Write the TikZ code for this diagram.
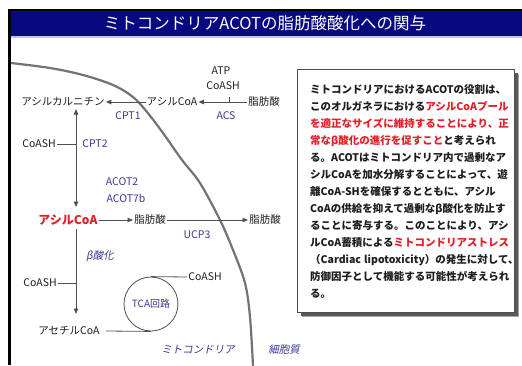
\documentclass[tikz,border=0pt]{standalone}
\usepackage{fontspec}
\newfontfamily\cjk{Noto Sans CJK JP}
\newfontfamily\cjki{Noto Sans CJK JP}[FakeSlant=0.2]
\usetikzlibrary{arrows.meta}
\definecolor{navy}{RGB}{8,8,128}
\definecolor{enz}{RGB}{58,58,150}
\definecolor{jred}{RGB}{228,30,40}
\definecolor{ink}{RGB}{30,30,30}
\definecolor{lne}{RGB}{80,80,80}
\begin{document}
\begin{tikzpicture}[x=1pt,y=-1pt,
  lbl/.style={font=\cjk\fontsize{10.5}{12}\selectfont, text=ink, inner sep=1pt},
  enzlbl/.style={lbl, text=enz},
  itlbl/.style={font=\cjki\fontsize{10.5}{12}\selectfont, text=enz, inner sep=1pt},
  tx/.style={font=\cjk\bfseries\fontsize{10.5}{12}\selectfont, text=ink, inner sep=0pt, anchor=base west},
  conn/.style={draw=lne, line width=0.8pt},
  arr/.style={conn, -{Triangle[length=5.5pt,width=4.5pt]}},
  arrboth/.style={conn, {Triangle[length=5.5pt,width=4.5pt]}-{Triangle[length=5.5pt,width=4.5pt]}},
]
\useasboundingbox (0,0) rectangle (522,365);
\fill[white] (0,0) rectangle (522,365);
% frame and title bar
\fill[black] (8,9) rectangle (522,11);
\fill[black] (8,9) rectangle (11,365);
\fill[navy] (11,11) rectangle (522,36);
\fill[blue!25] (11,36) rectangle (522,37.5);
\node[font=\cjk\fontsize{16.5}{18}\selectfont, text=white] (title) at (265,23) {ミトコンドリアACOTの脂肪酸酸化への関与};

% membrane curve
\draw[line width=2.2pt, draw=black!55] plot[smooth, tension=0.55] coordinates {(11,63) (50,68) (83,75) (113,85) (133,97) (147,112) (163,133) (182,160) (200,183) (220,220) (233,250) (245,283) (250,317) (253,366)};

% text box
\fill[black!35] (302,74) rectangle (519,317);
\fill[black!65] (301,73) rectangle (517.5,315.5);
\node[draw=black!70, fill=white, line width=0.8pt, minimum width=217pt, minimum height=243pt, anchor=north west, inner sep=0pt] (box) at (297,69) {};
\node[tx] (l1) at (310,93) {ミトコンドリアにおけるACOTの役割は、};
\node[tx] (l2) at (310,110) {このオルガネラにおける\textcolor{jred}{アシルCoAプール}};
\node[tx] (l3) at (310,127) {\textcolor{jred}{を適正なサイズに維持することにより、正}};
\node[tx] (l4) at (310,144) {\textcolor{jred}{常なβ酸化の進行を促すこと}と考えられ};
\node[tx] (l5) at (310,161) {る。ACOTはミトコンドリア内で過剰なア};
\node[tx] (l6) at (310,178) {シルCoAを加水分解することによって、遊};
\node[tx] (l7) at (310,195) {離CoA-SHを確保するとともに、アシル};
\node[tx] (l8) at (310,212) {CoAの供給を抑えて過剰なβ酸化を防止す};
\node[tx] (l9) at (310,229) {ることに寄与する。このことにより、アシ};
\node[tx] (l10) at (310,246) {ルCoA蓄積による\textcolor{jred}{ミトコンドリアストレス}};
\node[tx] (l11) at (310,263) {（Cardiac\hspace{0.3em}lipotoxicity）の発生に対して、};
\node[tx] (l12) at (310,280) {防御因子として機能する可能性が考えられ};
\node[tx] (l13) at (310,297) {る。};

% diagram labels
\node[lbl] (atp) at (221,71) {ATP};
\node[lbl] (coash1) at (223,86) {CoASH};
\node[lbl] (acar) at (63,102) {アシルカルニチン};
\node[lbl] (acoa1) at (172,102) {アシルCoA};
\node[lbl] (fa1) at (264,102) {脂肪酸};
\node[enzlbl] (cpt1) at (128,116) {CPT1};
\node[enzlbl] (acs) at (226,116) {ACS};
\node[lbl] (coash2) at (39,144) {CoASH};
\node[enzlbl] (cpt2) at (95,144) {CPT2};
\node[enzlbl] (acot2) at (122,182) {ACOT2};
\node[enzlbl] (acot7b) at (126,198) {ACOT7b};
\node[font=\cjk\bfseries\fontsize{12}{14}\selectfont, text=jred, inner sep=1pt] (acoaR) at (68,220) {アシルCoA};
\node[lbl] (fa2) at (150,220) {脂肪酸};
\node[lbl] (fa3) at (265,220) {脂肪酸};
\node[enzlbl] (ucp3) at (197,235) {UCP3};
\node[itlbl] (beta) at (100,256) {β酸化};
\node[lbl] (coash3) at (40,283) {CoASH};
\node[circle, draw=lne, line width=0.8pt, minimum size=54pt, inner sep=0pt, font=\cjk\fontsize{10}{12}\selectfont, text=enz] (tca) at (151,304) {TCA回路};
\node[lbl] (coash4) at (205,277) {CoASH};
\node[lbl] (acetyl) at (69,331) {アセチルCoA};
\node[itlbl] (mito) at (198,350) {ミトコンドリア};
\node[itlbl] (cyto) at (284,350) {細胞質};

% connectors
\coordinate (vx) at (76,0);
\coordinate (acsj) at (229,102);
\coordinate (vtop) at (76,109);
\coordinate (vbot) at (76,207);
\coordinate (v2top) at (76,229);
\coordinate (v2bot) at (76,314);
\draw[arr] (acoa1.west) -- (acar.east);
\draw[arr] (fa1.west) -- (acoa1.east);
\draw[conn] (acsj) -- ++(0,-5);
\draw[arrboth] (vtop) -- (vbot);
\draw[conn] (coash2.east) -- (coash2.east -| vx);
\draw[arr] (acoaR.east) -- (fa2.west);
\draw[arr] (fa2.east) -- (fa3.west);
\draw[arr] (v2top) -- (v2bot);
\draw[conn] (coash3.east) -- (coash3.east -| vx);
\draw[conn] (tca.north) -- (coash4.west);
\draw[conn] ([xshift=5pt]acetyl.east) -- (tca.south);
\end{tikzpicture}
\end{document}
